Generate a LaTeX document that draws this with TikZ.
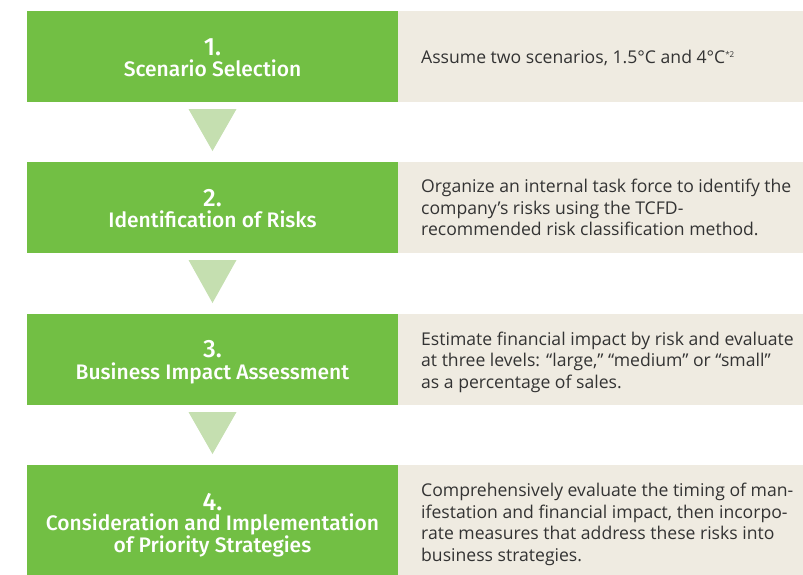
\documentclass[tikz,border=0pt]{standalone}
\usepackage{fontspec}
\setmainfont{Open Sans}
\newfontfamily\stagefont{Fira Sans}[UprightFont=*-Medium, BoldFont=*-SemiBold]
\usetikzlibrary{calc}
\definecolor{stagegreen}{HTML}{72BF44}
\definecolor{notebg}{HTML}{EFEBE1}
\definecolor{arrowgreen}{HTML}{C5DFB0}
\definecolor{notetextcol}{HTML}{333333}
\begin{document}
\begin{tikzpicture}[x=1pt,y=-1pt,
  stage/.style={fill=stagegreen, anchor=north west, minimum width=371pt,
    minimum height=91pt, inner sep=0pt, outer sep=0pt},
  stagenum/.style={anchor=base, inner sep=0pt, text=white,
    font=\stagefont\fontsize{25}{25}\selectfont},
  stagetitle/.style={anchor=base, inner sep=0pt, text=white,
    font=\stagefont\fontsize{21}{22}\selectfont},
  note/.style={fill=notebg, anchor=north west, minimum width=405pt,
    minimum height=91pt, inner sep=0pt, outer sep=0pt},
  notetext/.style={anchor=west, inner sep=0pt, align=left, text=notetextcol,
    font=\fontsize{17.6}{21.5}\selectfont},
  downarrow/.style={fill=arrowgreen}]
\useasboundingbox (0,0) rectangle (803,574);
\clip (0,0) rectangle (803,574);

% stage boxes (left column)
\node[stage] (s1) at (27,11)  {};
\node[stage] (s2) at (27,162) {};
\node[stage] (s3) at (27,314) {};
\node[stage, minimum height=115pt] (s4) at (27,465) {};

\node[stagenum]   (s1n)  at ($(s1.north)+(0,44.5)$) {1.};
\node[stagetitle] (s1t)  at ($(s1.north)+(0,65.5)$) {Scenario Selection};
\node[stagenum]   (s2n)  at ($(s2.north)+(0,44.5)$) {2.};
\node[stagetitle] (s2t)  at ($(s2.north)+(0,65.5)$) {Identification of Risks};
\node[stagenum]   (s3n)  at ($(s3.north)+(0,43.5)$) {3.};
\node[stagetitle] (s3t)  at ($(s3.north)+(0,65)$)   {Business Impact Assessment};
\node[stagenum]   (s4n)  at ($(s4.north)+(0,45)$)   {4.};
\node[stagetitle] (s4t)  at ($(s4.north)+(0,65.5)$) {Consideration and Implementation};
\node[stagetitle] (s4t2) at ($(s4.north)+(0,87.5)$) {of Priority Strategies};

% description panels (right column)
\node[note] (n1) at (398,11)  {};
\node[note] (n2) at (398,162) {};
\node[note] (n3) at (398,314) {};
\node[note, minimum height=115pt] (n4) at (398,465) {};

\node[notetext] (t1) at ($(n1.west)+(23,1.3)$)
  {Assume two scenarios, 1.5°C and 4°C{\fontsize{8}{8}\selectfont\raisebox{6pt}{*2}}};
\node[notetext] (t2) at ($(n2.west)+(23,0.3)$)
  {Organize an internal task force to identify the\\company’s risks using the TCFD-\\recommended risk classification method.};
\node[notetext] (t3) at ($(n3.west)+(23,2.6)$)
  {Estimate financial impact by risk and evaluate\\at three levels: “large,” “medium” or “small”\\as a percentage of sales.};
\node[notetext] (t4) at ($(n4.west)+(23,2)$)
  {Comprehensively evaluate the timing of man-\\ifestation and financial impact, then incorpo-\\rate measures that address these risks into\\business strategies.};

% downward arrows between stages
\fill[downarrow] ($(s1.south)+(-24,7)$) -- ($(s1.south)+(24,7)$) -- ($(s2.north)+(0,-11)$) -- cycle;
\fill[downarrow] ($(s2.south)+(-24,7)$) -- ($(s2.south)+(24,7)$) -- ($(s3.north)+(0,-11)$) -- cycle;
\fill[downarrow] ($(s3.south)+(-24,7)$) -- ($(s3.south)+(24,7)$) -- ($(s4.north)+(0,-11)$) -- cycle;
\end{tikzpicture}
\end{document}
